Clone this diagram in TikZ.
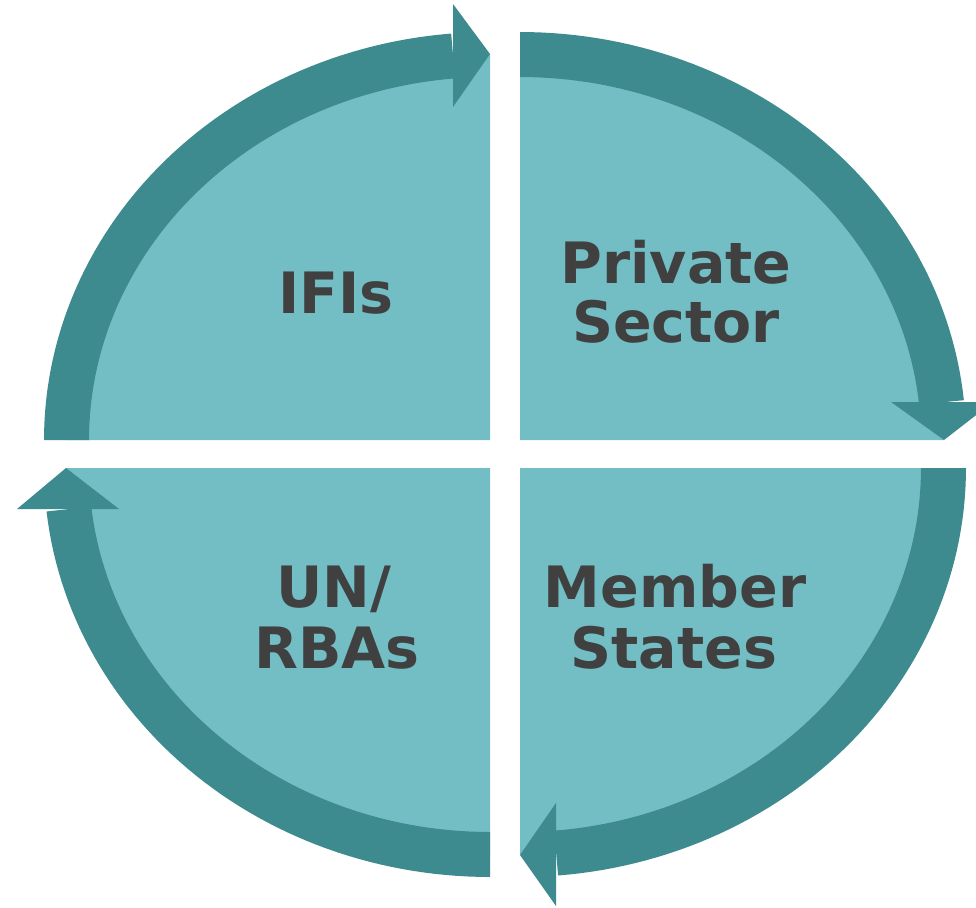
\documentclass[tikz,border=0pt]{standalone}
\usepackage{fontspec}
\setmainfont{DejaVu Sans}
\definecolor{dk}{HTML}{3D8B8F}
\definecolor{lt}{HTML}{72BEC4}
\definecolor{tx}{HTML}{404040}
\begin{document}
\begin{tikzpicture}[x=1pt,y=-1pt,
  lbl/.style={font=\fontsize{57pt}{60pt}\selectfont\bfseries, text=tx, inner sep=0pt, anchor=base},
  band/.style={fill=dk},
  quad/.style={fill=lt}]
\useasboundingbox (0,0) rectangle (976,907);
\clip (0,0) rectangle (976,907);
% quadrant fills
\fill[quad] (490,440) -- plot[domain=180:270,samples=60] ({490+424*cos(\x)},{440+386*sin(\x)}) -- cycle;
\fill[quad] (520,440) -- plot[domain=-90:0,samples=60] ({520+424*cos(\x)},{440+386*sin(\x)}) -- cycle;
\fill[quad] (520,468) -- plot[domain=0:90,samples=60] ({520+424*cos(\x)},{468+387*sin(\x)}) -- cycle;
\fill[quad] (490,468) -- plot[domain=90:180,samples=60] ({490+424*cos(\x)},{468+387*sin(\x)}) -- cycle;
% top-left band and head
\fill[band] plot[domain=180:265,samples=60] ({490+446*cos(\x)},{440+408*sin(\x)})
  -- plot[domain=265:180,samples=60] ({490+401*cos(\x)},{440+363*sin(\x)}) -- cycle;
\fill[band] (453,4) -- (490,54) -- (453,107) -- cycle;
% top-right band and head
\fill[band] plot[domain=-90:-5.6,samples=60] ({520+446*cos(\x)},{440+408*sin(\x)})
  -- plot[domain=-5.6:-90,samples=60] ({520+401*cos(\x)},{440+363*sin(\x)}) -- cycle;
\fill[band] (891,402) -- (944,440) -- (993,402) -- cycle;
% bottom-right band and head
\fill[band] plot[domain=0:85.1,samples=60] ({520+446*cos(\x)},{468+409*sin(\x)})
  -- plot[domain=85.1:0,samples=60] ({520+401*cos(\x)},{468+364*sin(\x)}) -- cycle;
\fill[band] (556,803) -- (520,855) -- (556,906) -- cycle;
% bottom-left band and head
\fill[band] plot[domain=90:173.9,samples=60] ({490+446*cos(\x)},{468+409*sin(\x)})
  -- plot[domain=173.9:90,samples=60] ({490+401*cos(\x)},{468+364*sin(\x)}) -- cycle;
\fill[band] (17,509) -- (66,468) -- (119,509) -- cycle;
% labels
\node[lbl] (ifis) at (336,313) {IFIs};
\node[lbl] (priv) at (676,283) {Private};
\node[lbl] (sect) at (676,342) {Sector};
\node[lbl] (un) at (334,607) {UN/};
\node[lbl] (rbas) at (337,668) {RBAs};
\node[lbl] (mem) at (675,607) {Member};
\node[lbl] (sta) at (674,668) {States};
\end{tikzpicture}
\end{document}
